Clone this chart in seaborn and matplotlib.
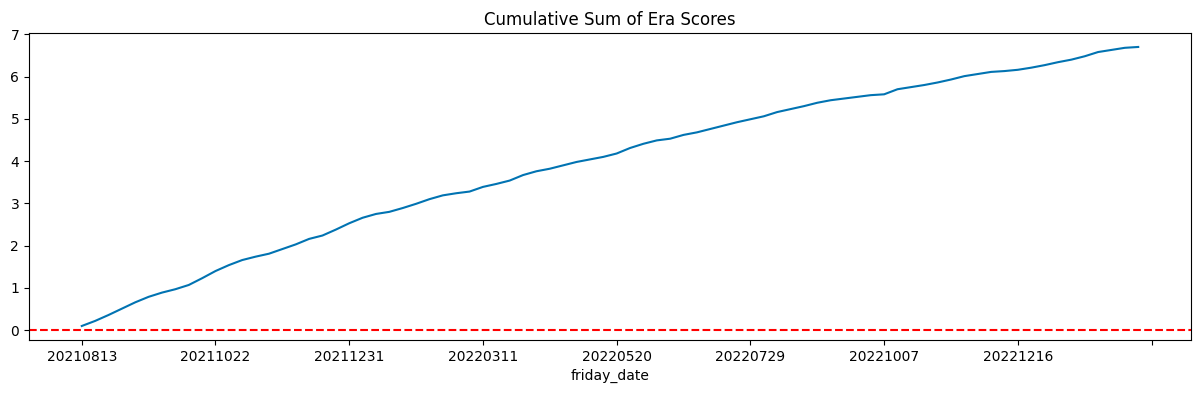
import pandas as pd
import matplotlib
matplotlib.use('Agg')
import matplotlib.pyplot as plt
import seaborn as sns

# weekly friday dates, 80 eras
friday_date = pd.date_range('2021-08-13', periods=80, freq='7D').strftime('%Y%m%d').tolist()

cum_score = [0.10, 0.22, 0.36, 0.51, 0.66, 0.79, 0.89, 0.97, 1.07, 1.23,
             1.40, 1.54, 1.66, 1.74, 1.81, 1.92, 2.03, 2.16, 2.24, 2.38,
             2.53, 2.66, 2.75, 2.80, 2.89, 2.99, 3.10, 3.19, 3.24, 3.28,
             3.39, 3.46, 3.54, 3.67, 3.76, 3.82, 3.90, 3.98, 4.04, 4.10,
             4.18, 4.31, 4.41, 4.49, 4.53, 4.62, 4.68, 4.76, 4.84, 4.92,
             4.99, 5.06, 5.16, 5.23, 5.30, 5.38, 5.44, 5.48, 5.52, 5.56,
             5.58, 5.70, 5.75, 5.80, 5.86, 5.93, 6.01, 6.06, 6.11, 6.13,
             6.16, 6.21, 6.27, 6.34, 6.40, 6.48, 6.58, 6.63, 6.68, 6.70]

tick_labels = ['20210813', '20211022', '20211231', '20220311', '20220520',
               '20220729', '20221007', '20221216', '']

df = pd.DataFrame({'friday_date': friday_date, 'score': cum_score})

fig, ax = plt.subplots(figsize=(12.01, 3.93), dpi=100)
sns.lineplot(data=df, x='friday_date', y='score', ax=ax, color='#0173b2', linewidth=1.5)
ax.axhline(0, color='red', linestyle='--')

ax.set_xticks(range(0, 81, 10))
ax.set_xticklabels(tick_labels)
ax.set_xlim(-3.95, 82.95)
ax.set_title('Cumulative Sum of Era Scores')
ax.set_xlabel('friday_date')
ax.set_ylabel('')

fig.subplots_adjust(left=0.0241, right=0.9917, top=0.916, bottom=0.135)
fig.savefig('out.png', dpi=100)
